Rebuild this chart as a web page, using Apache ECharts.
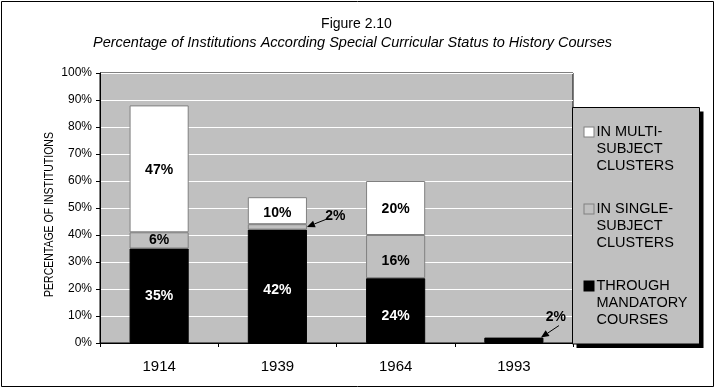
<!DOCTYPE html>
<html><head><meta charset="utf-8">
<script src="https://cdn.jsdelivr.net/npm/echarts@6/dist/echarts.min.js"></script>
<style>html,body{margin:0;padding:0;background:#fff}#c{width:720px;height:391px}</style>
</head><body><div id="c"></div>
<script>
// ---- data ----
const categories = ['1914', '1939', '1964', '1993'];
const mandatory = [35, 42, 24, 2];
const single = [6, 2, 16, null];
const multi = [47, 10, 20, null];
const yTickStep = 10;
const titleText = 'Figure 2.10';
const subtitleText = 'Percentage of Institutions According Special Curricular Status to History Courses';
const yAxisName = 'PERCENTAGE OF INSTITUTIONS';
const names = {
  multi: 'IN MULTI-SUBJECT CLUSTERS',
  single: 'IN SINGLE-SUBJECT CLUSTERS',
  mandatory: 'THROUGH MANDATORY COURSES'
};
const legendLines = {
  multi: ['IN MULTI-', 'SUBJECT', 'CLUSTERS'],
  single: ['IN SINGLE-', 'SUBJECT', 'CLUSTERS'],
  mandatory: ['THROUGH', 'MANDATORY', 'COURSES']
};
// values shown as callouts (with arrows) instead of inside labels
const callouts = [
  { key: 'single', cat: 1 },
  { key: 'mandatory', cat: 3 }
];

// ---- style ----
const FONT = '"Liberation Sans", Arial, sans-serif';
const GRAY = '#c0c0c0';
const labelNudge = { mandatory: [0, 4, 6, 0], single: [0, 0, 5, 0], multi: [1, 2, 1, 0] };
const calloutStyle = [
  { tipDx: 0, at: 'mid', textDx: 28.5, textDy: -11, startDx: 19, startDy: -7.5 },
  { tipDx: -2.5, at: 'top', textDx: 15, textDy: -20, startDx: 18, startDy: -12 }
];

const seriesData = { mandatory, single, multi };
const isCallout = (key, i) => callouts.some(c => c.key === key && c.cat === i);
function mkData(key) {
  return seriesData[key].map((v, i) => ({
    value: v,
    label: isCallout(key, i) ? { show: false } : { offset: [0, labelNudge[key][i]] }
  }));
}
const seriesStyle = {
  mandatory: { color: '#000', borderColor: '#000', label: '#fff' },
  single: { color: GRAY, borderColor: '#808080', label: '#000' },
  multi: { color: '#fff', borderColor: '#808080', label: '#000' }
};
const order = ['mandatory', 'single', 'multi'];
const series = order.map(key => ({
  name: names[key],
  type: 'bar',
  stack: 'total',
  barWidth: '50%',
  data: mkData(key),
  itemStyle: { color: seriesStyle[key].color, borderColor: seriesStyle[key].borderColor, borderWidth: 1 },
  label: {
    show: true, position: 'inside', formatter: '{c}%',
    color: seriesStyle[key].label, fontFamily: FONT, fontWeight: 'bold', fontSize: 14
  },
  emphasis: { disabled: true },
  animation: false
}));

const keyByName = {};
Object.keys(names).forEach(k => keyByName[names[k]] = k);
const sqKey = { multi: 'w', single: 'g', mandatory: 'k' };

const option = {
  animation: false,
  backgroundColor: '#fff',
  title: [
    { text: titleText, left: 356.5, textAlign: 'center', top: 15, padding: 0,
      textStyle: { fontFamily: FONT, fontSize: 14, fontWeight: 'normal', color: '#000', lineHeight: 18 } },
    { text: subtitleText, left: 352.5, textAlign: 'center', top: 34, padding: 0,
      textStyle: { fontFamily: FONT, fontSize: 14.5, fontWeight: 'normal', fontStyle: 'italic', color: '#000', lineHeight: 18 } }
  ],
  grid: { left: 100, right: 147, top: 73, bottom: 48, show: true, backgroundColor: GRAY, borderColor: '#000', borderWidth: 1 },
  xAxis: {
    type: 'category', data: categories,
    axisLine: { lineStyle: { color: '#000', width: 1 } },
    axisTick: { show: true, length: 4, lineStyle: { color: '#000' } },
    axisLabel: { fontFamily: FONT, fontSize: 15, color: '#000', margin: 16 },
    splitLine: { show: false }
  },
  yAxis: {
    type: 'value', min: 0, max: 100, interval: yTickStep,
    axisLine: { show: true, lineStyle: { color: '#000', width: 1 } },
    axisTick: { show: true, length: 4, lineStyle: { color: '#000' } },
    axisLabel: { fontFamily: FONT, fontSize: 12, color: '#000', margin: 8, formatter: '{value}%' },
    splitLine: { show: true, lineStyle: { color: '#fff', width: 1 } }
  },
  legend: {
    orient: 'vertical', left: 574.5, top: 119.5, itemGap: 28,
    icon: 'none', itemWidth: 0, itemHeight: 0, selectedMode: false, z: 10,
    data: [names.multi, names.single, names.mandatory],
    formatter: function (name) {
      const k = keyByName[name];
      return legendLines[k].map((l, i) => (i === 0 ? '{' + sqKey[k] + '|}' : '{sp|}') + '{t|' + l + '}').join('\n');
    },
    textStyle: {
      rich: {
        w: { width: 9, height: 9, backgroundColor: '#fff', borderColor: '#808080', borderWidth: 1 },
        g: { width: 9, height: 9, backgroundColor: GRAY, borderColor: '#808080', borderWidth: 1 },
        k: { width: 9, height: 9, backgroundColor: '#000', borderColor: '#000', borderWidth: 1 },
        sp: { width: 9, height: 9 },
        t: { fontFamily: FONT, fontSize: 14.5, color: '#000', lineHeight: 17, padding: [0, 0, 0, 3] }
      }
    }
  },
  series: series
};

const chart = echarts.init(document.getElementById('c'), null, { renderer: 'canvas' });
chart.setOption(option);

// ---- frame, legend box, axis name, callouts ----
const g = [];
g.push({ type: 'rect', z: 1, silent: true, shape: { x: 1.5, y: 1.5, width: 712, height: 385 }, style: { fill: 'none', stroke: '#000', lineWidth: 1 } });
g.push({ type: 'rect', z: 5, silent: true, shape: { x: 576.5, y: 111.5, width: 127, height: 236.5 }, style: { fill: '#000' } });
g.push({ type: 'rect', z: 6, silent: true, shape: { x: 572.5, y: 107.5, width: 127, height: 236.5 }, style: { fill: GRAY, stroke: '#000', lineWidth: 1 } });
// condensed rotated y-axis title
g.push({ type: 'text', z: 10, silent: true, x: 49.5, y: 214.5, rotation: Math.PI / 2, scaleX: 0.84,
  style: { text: yAxisName, font: '12.5px ' + FONT, fill: '#000', align: 'center', verticalAlign: 'middle' } });

const px0 = chart.convertToPixel({ gridIndex: 0 }, [0, 0]);
const px1 = chart.convertToPixel({ gridIndex: 0 }, [1, 0]);
const barW = (px1[0] - px0[0]) * 0.5;
callouts.forEach((c, idx) => {
  const st = calloutStyle[idx];
  const ki = order.indexOf(c.key);
  let base = 0;
  for (let j = 0; j < ki; j++) base += (seriesData[order[j]][c.cat] || 0);
  const v = seriesData[c.key][c.cat];
  const yVal = st.at === 'mid' ? base + v / 2 : base + v;
  const p = chart.convertToPixel({ gridIndex: 0 }, [c.cat, yVal]);
  const tip = [p[0] + barW / 2 + st.tipDx, p[1]];
  const start = [tip[0] + st.startDx, tip[1] + st.startDy];
  const dx = tip[0] - start[0], dy = tip[1] - start[1];
  const L = Math.hypot(dx, dy), ux = dx / L, uy = dy / L;
  const hl = 8, hw = 3.5;
  const bx = tip[0] - ux * hl, by = tip[1] - uy * hl;
  g.push({ type: 'line', z: 20, silent: true, shape: { x1: start[0], y1: start[1], x2: bx, y2: by }, style: { stroke: '#000', lineWidth: 1 } });
  g.push({ type: 'polygon', z: 20, silent: true, shape: { points: [tip, [bx - uy * hw, by + ux * hw], [bx + uy * hw, by - ux * hw]] }, style: { fill: '#000' } });
  g.push({ type: 'text', z: 20, silent: true, style: { text: v + '%', x: tip[0] + st.textDx, y: tip[1] + st.textDy, font: 'bold 14px ' + FONT, fill: '#000', align: 'center', verticalAlign: 'middle' } });
});
chart.setOption({ graphic: g });
</script>
</body></html>
